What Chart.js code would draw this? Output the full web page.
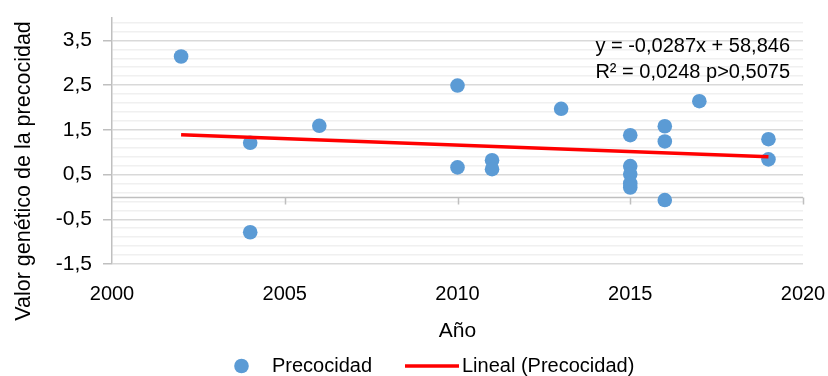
<!DOCTYPE html>
<html>
<head>
<meta charset="utf-8">
<script src="https://cdn.jsdelivr.net/npm/chart.js@4.4.1/dist/chart.umd.min.js"></script>
<style>
  html, body { margin: 0; padding: 0; background: #fff; }
  #wrap { width: 828px; height: 376px; }
</style>
</head>
<body>
<div id="wrap"><canvas id="chart"></canvas></div>
<script>
// data
const years = [2002, 2004, 2004, 2006, 2010, 2010, 2011, 2011, 2013, 2015, 2015, 2015, 2015, 2015, 2016, 2016, 2016, 2017, 2019, 2019];
const values = [3.14, 1.21, -0.79, 1.59, 2.49, 0.66, 0.82, 0.62, 1.97, 1.38, 0.69, 0.51, 0.30, 0.21, 1.58, 1.24, -0.07, 2.14, 1.29, 0.84];
const trendYears = [2002, 2019];
const trendValues = [1.39, 0.90];

const xTicks = [2000, 2005, 2010, 2015, 2020];
const xTickLabels = ['2000', '2005', '2010', '2015', '2020'];
const yMajorTicks = [-1.5, -0.5, 0.5, 1.5, 2.5, 3.5];
const yTickLabels = ['-1,5', '-0,5', '0,5', '1,5', '2,5', '3,5'];
const yMinorStep = 0.2;

const equationLines = ['y = -0,0287x + 58,846', 'R² = 0,0248 p>0,5075'];
const yTitle = 'Valor genético de la precocidad';
const xTitle = 'Año';
const seriesName = 'Precocidad';
const trendName = 'Lineal (Precocidad)';

const FONT = "'Liberation Sans', Arial, sans-serif";
const POINT_COLOR = '#5b9bd5';
const TREND_COLOR = '#ff0000';
const AXIS_COLOR = '#bfbfbf';

function majorIndex(v) {
  return yMajorTicks.findIndex(m => Math.abs(m - v) < 1e-6);
}

const extras = {
  id: 'extras',
  beforeDraw(chart) {
    const ctx = chart.ctx;
    ctx.save();
    ctx.fillStyle = '#fff';
    ctx.fillRect(0, 0, chart.width, chart.height);
    ctx.restore();
  },
  beforeDatasetsDraw(chart) {
    // horizontal axis crossing at y = 0
    const { ctx, chartArea, scales: { x, y } } = chart;
    const y0 = Math.round(y.getPixelForValue(0)) + 0.5;
    ctx.save();
    ctx.strokeStyle = AXIS_COLOR;
    ctx.lineWidth = 1.5;
    ctx.beginPath();
    ctx.moveTo(chartArea.left, y0);
    ctx.lineTo(chartArea.right, y0);
    xTicks.forEach(t => {
      if (t === x.min) return;
      const px = Math.round(x.getPixelForValue(t)) + 0.5;
      ctx.moveTo(px, y0);
      ctx.lineTo(px, y0 + 7);
    });
    ctx.stroke();
    ctx.restore();
  },
  afterDraw(chart) {
    const { ctx } = chart;
    ctx.save();
    // equation
    ctx.fillStyle = '#000';
    ctx.font = '20px ' + FONT;
    ctx.textAlign = 'right';
    ctx.textBaseline = 'alphabetic';
    ctx.fillText(equationLines[0], 790, 52);
    ctx.fillText(equationLines[1], 790, 78);

    // y title
    ctx.save();
    ctx.translate(24, 171);
    ctx.rotate(-Math.PI / 2);
    ctx.font = '21.5px ' + FONT;
    ctx.textAlign = 'center';
    ctx.textBaseline = 'middle';
    ctx.fillText(yTitle, 0, 0);
    ctx.restore();

    // legend
    ctx.font = '20px ' + FONT;
    ctx.textAlign = 'left';
    ctx.textBaseline = 'middle';
    const ly = 366;
    ctx.fillStyle = POINT_COLOR;
    ctx.beginPath();
    ctx.arc(241.5, ly, 7.3, 0, Math.PI * 2);
    ctx.fill();
    ctx.fillStyle = '#000';
    ctx.fillText(seriesName, 272, ly);
    ctx.strokeStyle = TREND_COLOR;
    ctx.lineWidth = 3.5;
    ctx.beginPath();
    ctx.moveTo(405, ly);
    ctx.lineTo(459, ly);
    ctx.stroke();
    ctx.fillText(trendName, 462, ly);
    ctx.restore();
  }
};

new Chart(document.getElementById('chart'), {
  type: 'scatter',
  data: {
    datasets: [
      {
        label: seriesName,
        data: years.map((yr, i) => ({ x: yr, y: values[i] })),
        backgroundColor: POINT_COLOR,
        borderColor: POINT_COLOR,
        pointRadius: 7.3,
        pointHoverRadius: 7.3,
        borderWidth: 0,
        order: 1
      },
      {
        label: trendName,
        type: 'line',
        data: trendYears.map((yr, i) => ({ x: yr, y: trendValues[i] })),
        borderColor: TREND_COLOR,
        borderWidth: 3.5,
        pointRadius: 0,
        fill: false,
        order: 0
      }
    ]
  },
  options: {
    responsive: true,
    maintainAspectRatio: false,
    animation: false,
    devicePixelRatio: 1,
    layout: { padding: { left: 0, right: 25, top: 18, bottom: 0 } },
    plugins: {
      legend: { display: false },
      tooltip: { enabled: false }
    },
    scales: {
      x: {
        type: 'linear',
        min: 2000,
        max: 2020,
        afterBuildTicks: s => { s.ticks = xTicks.map(v => ({ value: v })); },
        afterFit: s => {
          s.height = 112;
          s.paddingLeft = 0;
          s.paddingRight = 0;
        },
        grid: { display: false, drawTicks: false },
        border: { display: false },
        ticks: {
          padding: 18,
          color: '#000',
          font: { family: FONT, size: 20 },
          maxRotation: 0,
          callback: (v, i) => xTickLabels[i]
        },
        title: {
          display: true,
          text: xTitle,
          color: '#000',
          font: { family: FONT, size: 21, lineHeight: 1.2 },
          padding: { top: 0, bottom: 32 }
        }
      },
      y: {
        type: 'linear',
        min: -1.5,
        max: 4.0,
        afterBuildTicks: s => {
          const t = [];
          for (let i = 0; ; i++) {
            const v = Math.round((-1.5 + i * yMinorStep) * 10) / 10;
            if (v >= 4.0 - 1e-6) break;
            t.push({ value: v });
          }
          s.ticks = t;
        },
        afterFit: s => {
          s.width = 112;
          s.paddingTop = 0;
          s.paddingBottom = 0;
        },
        grid: {
          color: c => majorIndex(c.tick.value) >= 0 ? '#d9d9d9' : '#f0f0f0',
          lineWidth: 1.5,
          drawTicks: true,
          tickLength: 9,
          tickColor: c => majorIndex(c.tick.value) >= 0 ? AXIS_COLOR : 'rgba(0,0,0,0)'
        },
        border: { display: true, color: AXIS_COLOR, width: 1.5 },
        ticks: {
          padding: 11,
          color: '#000',
          font: { family: FONT, size: 21 },
          autoSkip: false,
          callback: v => {
            const i = majorIndex(v);
            return i >= 0 ? yTickLabels[i] : '';
          }
        }
      }
    }
  },
  plugins: [extras]
});
</script>
</body>
</html>
